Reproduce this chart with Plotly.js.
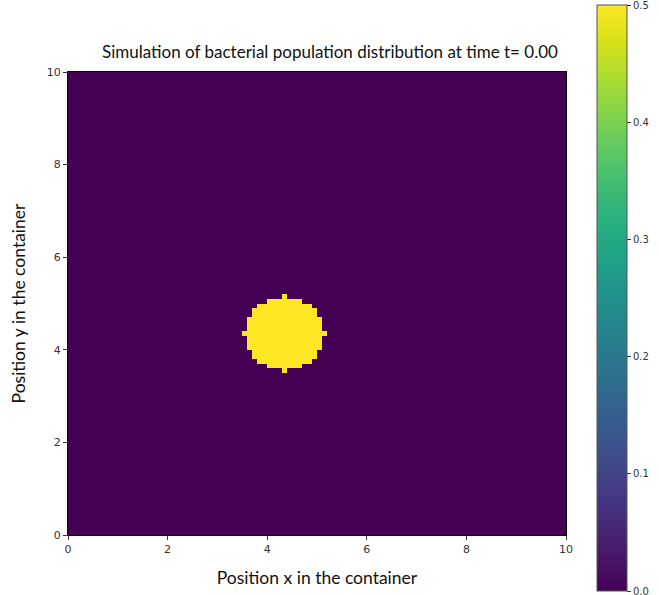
<!DOCTYPE html>
<html>
<head>
<meta charset="utf-8">
<script src="https://cdn.plot.ly/plotly-3.0.1.min.js"></script>
<style>html,body{margin:0;padding:0;background:#fff;}#chart{width:659px;height:595px;}</style>
</head>
<body>
<div id="chart"></div>
<script>
// Grid: 100 x 100 cells over [0,10] x [0,10]
var gridN = 100;
var cellSize = 0.1;
var backgroundValue = 0.0;
var diskValue = 0.5;
// Disk: for each row (y cell centre), the x extent (left, right edges)
var diskRowY   = [3.55, 3.65, 3.75, 3.85, 3.95, 4.05, 4.15, 4.25, 4.35, 4.45, 4.55, 4.65, 4.75, 4.85, 4.95, 5.05, 5.15];
var diskXLeft  = [4.30, 4.00, 3.80, 3.70, 3.70, 3.60, 3.60, 3.60, 3.50, 3.60, 3.60, 3.60, 3.70, 3.70, 3.80, 4.00, 4.30];
var diskXRight = [4.40, 4.70, 4.90, 5.00, 5.00, 5.10, 5.10, 5.10, 5.20, 5.10, 5.10, 5.10, 5.00, 5.00, 4.90, 4.70, 4.40];
var xTicks = [0, 2, 4, 6, 8, 10];
var yTicks = [0, 2, 4, 6, 8, 10];
var cbTicks = [0.0, 0.1, 0.2, 0.3, 0.4, 0.5];
var cbTickText = ["0.0", "0.1", "0.2", "0.3", "0.4", "0.5"];

var xs = [], ys = [];
for (var i = 0; i < gridN; i++) { xs.push((i + 0.5) * cellSize); ys.push((i + 0.5) * cellSize); }
var z = [];
for (var r = 0; r < gridN; r++) {
  var row = [];
  for (var c = 0; c < gridN; c++) row.push(backgroundValue);
  z.push(row);
}
for (var k = 0; k < diskRowY.length; k++) {
  var ri = Math.round(diskRowY[k] / cellSize - 0.5);
  for (var c2 = 0; c2 < gridN; c2++) {
    if (xs[c2] > diskXLeft[k] && xs[c2] < diskXRight[k]) z[ri][c2] = diskValue;
  }
}

var W = 659, H = 595;
var plotL = 68, plotR = 566, plotT = 72, plotB = 535;
var pw = plotR - plotL, ph = plotB - plotT;
var trace = {
  type: 'heatmap', x: xs, y: ys, z: z,
  colorscale: 'Viridis', zmin: 0, zmax: 0.5,
  hoverinfo: 'skip',
  colorbar: {
    xref: 'paper', yref: 'paper',
    x: (597 - plotL) / pw, xanchor: 'left',
    y: (plotB - 5) / ph, yanchor: 'top',
    lenmode: 'pixels', len: 586,
    thickness: 30, thicknessmode: 'pixels',
    outlinewidth: 1, outlinecolor: '#555',
    xpad: 0, ypad: 0,
    ticks: 'outside', ticklen: 4, tickcolor: '#333',
    tickvals: cbTicks, ticktext: cbTickText,
    ticklabeloverflow: 'allow',
    tickfont: {family: 'DejaVu Sans', size: 10, color: '#333'}
  }
};
var axisCommon = {
  range: [0, 10], showgrid: false, zeroline: false,
  showline: true, mirror: true, linecolor: '#000', linewidth: 1,
  ticks: 'outside', ticklen: 4, tickcolor: '#333',
  tickfont: {family: 'DejaVu Sans', size: 11, color: '#333'}
};
var layout = {
  width: W, height: H,
  margin: {l: plotL, r: W - plotR, t: plotT, b: H - plotB, pad: 0, autoexpand: false},
  paper_bgcolor: '#fff', plot_bgcolor: '#fff',
  title: {
    text: 'Simulation of bacterial population distribution at time t= 0.00',
    font: {family: 'Lato', size: 17, color: '#111'},
    xref: 'container', x: 330 / W, xanchor: 'center',
    yref: 'container', y: 1 - 52 / H, yanchor: 'middle'
  },
  xaxis: Object.assign({}, axisCommon, {
    tickvals: xTicks,
    title: {text: 'Position x in the container', font: {family: 'Lato', size: 17.5, color: '#111'}, standoff: 16}
  }),
  yaxis: Object.assign({}, axisCommon, {
    tickvals: yTicks,
    title: {text: 'Position y in the container', font: {family: 'Lato', size: 17.5, color: '#111'}, standoff: 16}
  })
};
Plotly.newPlot('chart', [trace], layout, {staticPlot: true, displayModeBar: false});
</script>
</body>
</html>
